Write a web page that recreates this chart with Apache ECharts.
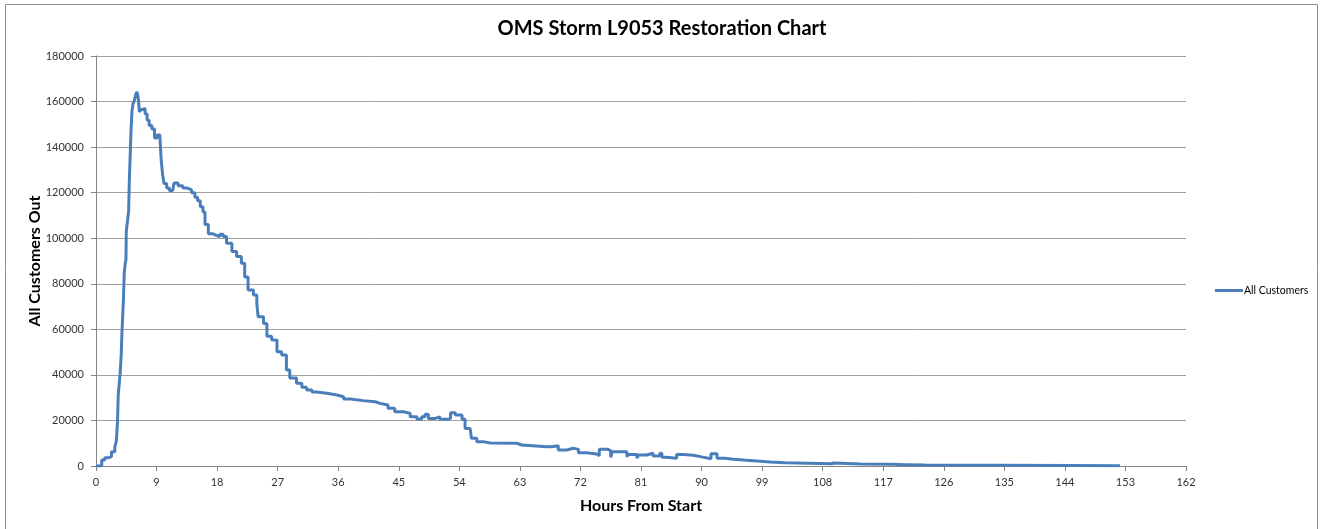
<!DOCTYPE html>
<html>
<head>
<meta charset="utf-8">
<title>OMS Storm L9053 Restoration Chart</title>
<script src="https://cdn.jsdelivr.net/npm/echarts@6/dist/echarts.min.js"></script>
<style>
  html, body { margin: 0; padding: 0; background: #fff; }
  #chart { width: 1324px; height: 529px; }
</style>
</head>
<body>
<div id="chart"></div>
<script>
// hours from storm start, and customers out from that moment on
const hours = [
  0, 0.85, 1.3, 1.8, 2.3, 2.8, 3.0, 3.1, 3.2, 3.3, 3.45, 3.6, 3.75, 3.85, 4.0, 4.1, 4.2, 4.35, 4.45, 4.5,
  4.7, 4.85, 4.95, 5.1, 5.2, 5.35, 5.5, 5.7, 5.9, 6.1, 6.3, 6.45, 6.7, 7.0, 7.3, 7.6, 7.9, 8.3, 8.7, 9.1,
  9.5, 9.7, 9.9, 10.1, 10.5, 10.9, 11.4, 11.6, 12.2, 12.9, 13.6, 14.2, 14.7, 15.1, 15.5, 15.9, 16.2, 16.7, 17.3, 17.9,
  18.4, 18.9, 19.4, 20.2, 20.9, 21.6, 22.1, 22.6, 23.4, 23.9, 24.1, 24.9, 25.4, 26.1, 26.9, 27.6, 28.3, 28.8, 29.8, 30.6,
  31.3, 32.1, 32.8, 34.3, 35.8, 36.8, 37.8, 39.7, 41.5, 42.2, 43.4, 44.4, 45.7, 46.7, 47.7, 48.4, 48.9, 49.4, 50.4, 51.1,
  52.4, 52.7, 53.4, 54.4, 54.85, 55.6, 55.8, 56.6, 57.5, 58.6, 62.5, 63.3, 67.0, 67.7, 68.7, 70.0, 70.9, 71.7, 72.9, 74.4,
  74.8, 76.1, 76.5, 76.7, 78.9, 79.1, 80.4, 80.6, 81.85, 82.8, 83.8, 84.1, 84.8, 86.3, 87.3, 88.8, 90.0, 91.4, 92.3, 93.5,
  94.7, 96.2, 97.7, 100.2, 102.4, 109.3, 109.6, 113.6, 118.5, 120.2, 120.7, 123.2, 145.0, 152.2
];
const customers = [
  0, 2600, 3600, 4100, 6300, 8500, 10500, 14300, 20000, 31000, 36000, 41000, 49000, 58000, 68000, 75000, 85000, 89000, 90500, 103000,
  108000, 112000, 125000, 138000, 147000, 156000, 159000, 160500, 163000, 164300, 161000, 155500, 156500, 157000, 154500, 151800, 149500, 148000, 144000, 145300,
  144000, 134000, 128000, 124000, 122000, 121000, 120400, 124200, 123000, 122000, 121200, 120000, 118000, 116500, 113800, 111500, 106000, 102000, 101200, 100700,
  101700, 100800, 97800, 94200, 92000, 89000, 83000, 77300, 75100, 71400, 65500, 62600, 57000, 55300, 50200, 48700, 42100, 38600, 36300, 34600,
  33400, 32500, 31900, 31200, 30400, 29400, 28700, 28200, 27500, 26800, 25300, 23800, 23100, 21600, 20500, 21600, 22700, 20900, 21600, 20500,
  21000, 23400, 22400, 20500, 16500, 15800, 12200, 10700, 10100, 10000, 9200, 8500, 8500, 8900, 7000, 7800, 7300, 5800, 5300, 4500,
  7300, 6700, 3800, 6300, 4100, 5100, 3400, 4800, 5600, 4400, 5600, 3800, 3400, 5100, 4700, 4000, 3200, 5400, 3400, 3000,
  2600, 2300, 1800, 1400, 1000, 1300, 900, 750, 500, 600, 400, 250, 100, 100
];
const hourTicks = { min: 0, max: 162, interval: 9 };
const customerTicks = { min: 0, max: 180000, interval: 20000 };

const chart = echarts.init(document.getElementById('chart'));

const font = 'Lato, "Open Sans", sans-serif';

chart.setOption({
  animation: false,
  textStyle: { fontFamily: font },
  graphic: [{
    type: 'rect',
    shape: { x: 5.5, y: 4.5, width: 1312, height: 540 },
    style: { fill: null, stroke: '#8c8c8c', lineWidth: 1 },
    silent: true
  }],
  title: {
    text: 'OMS Storm L9053 Restoration Chart',
    left: 'center',
    top: 14,
    textStyle: { fontFamily: font, fontSize: 20, fontWeight: 'bold', color: '#000' }
  },
  legend: {
    left: 1210,
    top: 280,
    icon: 'rect',
    itemWidth: 28,
    itemHeight: 3,
    itemGap: 2,
    textStyle: { fontFamily: font, fontSize: 10.5, color: '#000', padding: [0, 0, 0, -4] },
    data: ['All Customers']
  },
  grid: { left: 96, right: 138, top: 56, bottom: 63, containLabel: false },
  xAxis: {
    type: 'value',
    min: hourTicks.min,
    max: hourTicks.max,
    interval: hourTicks.interval,
    name: 'Hours From Start',
    nameLocation: 'middle',
    nameGap: 32,
    nameTextStyle: { fontFamily: font, fontSize: 16, fontWeight: 'bold', color: '#000' },
    axisLine: { lineStyle: { color: '#868686', width: 1 } },
    axisTick: { show: true, inside: false, length: 5, lineStyle: { color: '#868686' } },
    axisLabel: { margin: 11, fontSize: 11, color: '#333' },
    splitLine: { show: false }
  },
  yAxis: {
    type: 'value',
    min: customerTicks.min,
    max: customerTicks.max,
    interval: customerTicks.interval,
    name: 'All Customers Out',
    nameLocation: 'middle',
    nameGap: 53,
    nameMoveOverlap: false,
    nameTextStyle: { fontFamily: font, fontSize: 16, fontWeight: 'bold', color: '#000' },
    axisLine: { show: true, lineStyle: { color: '#868686', width: 1 } },
    axisTick: { show: true, inside: false, length: 5, lineStyle: { color: '#868686' } },
    axisLabel: { margin: 12, fontSize: 11, color: '#333', formatter: (v) => String(v) },
    splitLine: { show: true, lineStyle: { color: '#a0a0a0', width: 1 } }
  },
  series: [{
    name: 'All Customers',
    type: 'line',
    step: 'end',
    symbol: 'none',
    showSymbol: false,
    lineStyle: { color: '#4A7EBB', width: 3 },
    itemStyle: { color: '#4A7EBB' },
    data: hours.map((h, i) => [h, customers[i]])
  }]
});

window.addEventListener('resize', () => chart.resize());
</script>
</body>
</html>
